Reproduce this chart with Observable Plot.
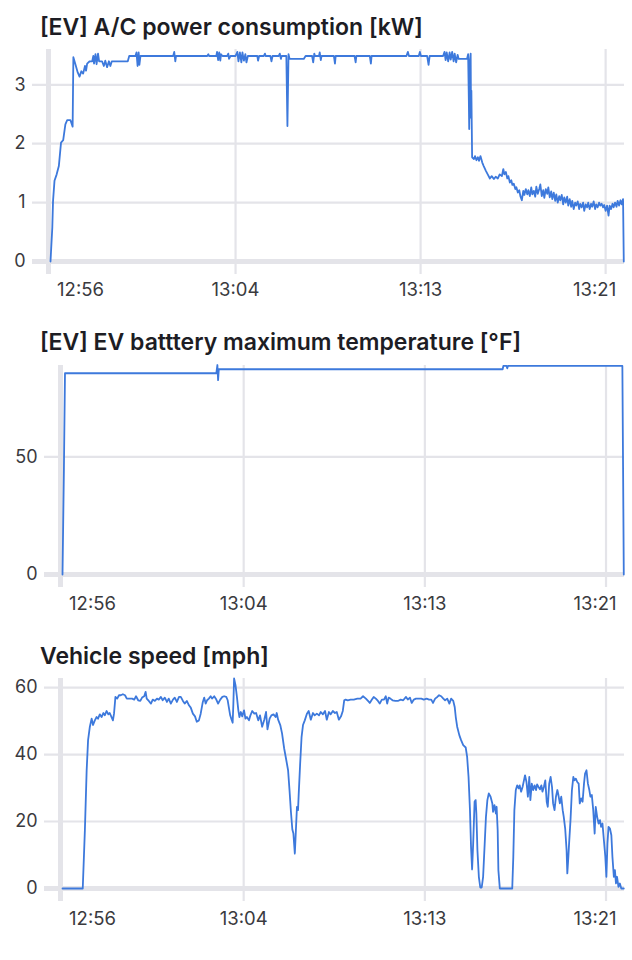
<!DOCTYPE html>
<html><head><meta charset="utf-8">
<script src="https://cdn.jsdelivr.net/npm/d3@7"></script>
<script src="https://cdn.jsdelivr.net/npm/@observablehq/plot@0.6"></script>
<style>
html,body{margin:0;padding:0;background:#fff;}
body{width:632px;height:960px;position:relative;overflow:hidden;font-family:Inter,"Noto Sans",sans-serif;}
.title{position:absolute;left:40px;font-size:23px;font-weight:600;color:#1d1d24;line-height:1;white-space:nowrap;}
.panel{position:absolute;left:0;}
</style></head><body>
<div class="title" style="top:16px">[EV] A/C power consumption [kW]</div>
<div class="panel" id="p1" style="top:40px"></div>
<div class="title" style="top:331px">[EV] EV batttery maximum temperature [°F]</div>
<div class="panel" id="p2" style="top:355px"></div>
<div class="title" style="top:645px">Vehicle speed [mph]</div>
<div class="panel" id="p3" style="top:670px"></div>
<script>
// time axis: seconds after 12:56:00
const startTime = "12:56:00";
const endTime = "13:22:22";
const xTickTimes = ["12:56:00", "13:04:30", "13:13:00", "13:21:30"];
const acTicks = [0, 1, 2, 3];
const tempTicks = [0, 50];
const speedTicks = [0, 20, 40, 60];

// [seconds after 12:56:00, kW]
const acPower = [[0,0],[5,0.58],[7,1.03],[11,1.37],[17,1.48],[23,1.62],[29,2.02],[35,2.06],[41,2.33],[46,2.40],[55,2.40],[61,2.29],[63,3.47],[69,3.34],[75,3.21],[80,3.14],[85,3.23],[90,3.19],[95,3.32],[98,3.24],[101,3.36],[108,3.40],[115,3.40],[118,3.49],[120,3.36],[124,3.52],[127,3.35],[131,3.53],[134,3.40],[142,3.40],[147,3.32],[151,3.41],[156,3.30],[161,3.40],[165,3.32],[169,3.40],[213,3.40],[217,3.49],[234,3.49],[237,3.55],[240,3.32],[243,3.55],[245,3.34],[248,3.49],[338,3.49],[341,3.56],[344,3.40],[346,3.49],[432,3.49],[435,3.52],[437,3.49],[457,3.49],[459,3.56],[462,3.42],[465,3.55],[468,3.41],[470,3.52],[474,3.49],[487,3.49],[490,3.53],[492,3.44],[496,3.49],[510,3.49],[515,3.56],[518,3.40],[522,3.55],[526,3.38],[529,3.55],[533,3.41],[537,3.52],[540,3.38],[544,3.49],[570,3.49],[572,3.41],[575,3.49],[588,3.49],[591,3.53],[593,3.49],[606,3.49],[609,3.40],[612,3.49],[629,3.49],[632,3.53],[635,3.44],[637,3.49],[650,3.49],[653,2.30],[656,3.52],[659,3.44],[698,3.44],[703,3.49],[721,3.49],[724,3.38],[727,3.53],[729,3.49],[740,3.49],[742,3.55],[745,3.42],[747,3.49],[781,3.49],[784,3.36],[786,3.49],[838,3.49],[841,3.38],[843,3.49],[880,3.49],[883,3.36],[885,3.49],[981,3.49],[985,3.56],[988,3.49],[1015,3.49],[1018,3.56],[1021,3.49],[1038,3.49],[1042,3.34],[1045,3.49],[1082,3.49],[1086,3.56],[1089,3.42],[1092,3.55],[1096,3.40],[1100,3.55],[1103,3.43],[1107,3.56],[1111,3.40],[1114,3.53],[1118,3.38],[1122,3.51],[1125,3.44],[1148,3.44],[1151,3.52],[1153,2.73],[1154,2.25],[1156,3.41],[1158,3.53],[1159,2.44],[1160,2.90],[1161,2.33],[1162,1.77],[1167,1.74],[1170,1.79],[1174,1.72],[1178,1.77],[1181,1.71],[1185,1.79],[1190,1.68],[1194,1.62],[1200,1.54],[1205,1.48],[1211,1.41],[1216,1.45],[1222,1.40],[1227,1.44],[1233,1.41],[1238,1.48],[1244,1.45],[1248,1.57],[1251,1.48],[1255,1.52],[1259,1.41],[1262,1.45],[1266,1.34],[1270,1.38],[1273,1.30],[1277,1.32],[1281,1.23],[1284,1.26],[1288,1.17],[1292,1.21],[1295,1.11],[1299,1.04],[1303,1.20],[1306,1.13],[1310,1.23],[1314,1.14],[1317,1.21],[1321,1.11],[1325,1.26],[1328,1.14],[1332,1.20],[1336,1.10],[1339,1.27],[1343,1.15],[1347,1.23],[1350,1.31],[1354,1.11],[1358,1.21],[1361,1.08],[1365,1.23],[1369,1.15],[1372,1.26],[1376,1.09],[1380,1.19],[1383,1.06],[1387,1.17],[1391,1.03],[1394,1.14],[1398,1.00],[1402,1.11],[1405,1.04],[1409,1.13],[1413,0.97],[1416,1.09],[1420,1.00],[1424,1.10],[1427,0.95],[1431,1.06],[1435,0.93],[1438,1.03],[1442,0.89],[1446,1.00],[1449,0.95],[1453,1.02],[1457,0.89],[1460,0.98],[1464,0.92],[1468,1.00],[1471,0.86],[1475,0.97],[1479,0.92],[1482,1.00],[1486,0.89],[1490,0.98],[1493,0.93],[1497,1.02],[1501,0.89],[1504,0.97],[1508,0.92],[1512,1.00],[1515,0.95],[1519,0.98],[1523,0.92],[1526,0.96],[1530,0.86],[1534,0.95],[1538,0.78],[1541,0.95],[1545,0.89],[1549,0.98],[1552,0.92],[1556,1.00],[1560,0.93],[1563,1.03],[1567,0.95],[1571,1.04],[1574,0.97],[1578,1.06],[1580,0]];

// [seconds after 12:56:00, °F]
const batteryTemp = [[0,0],[4,45],[7,85.5],[433,85.5],[436,89.0],[438,82.6],[440,87.2],[1239,87.2],[1241,88.6],[1250,88.6],[1252,87.6],[1254,88.6],[1576,88.6],[1578,45],[1580,0]];

// [seconds after 12:56:00, mph]
const vehicleSpeed = [[0,0],[57,0],[63,17.4],[68,35.3],[72,44.3],[77,48.3],[82,50.7],[86,48.8],[91,50.2],[96,51.2],[100,50.7],[105,52.0],[110,51.2],[115,52.4],[119,51.7],[124,53.0],[129,52.0],[133,52.4],[138,51.2],[142,50.2],[145,52.2],[149,57.2],[154,56.7],[159,57.7],[164,57.7],[170,58.0],[176,57.7],[181,56.7],[189,56.7],[196,56.7],[202,56.4],[207,57.4],[213,56.2],[219,56.0],[224,57.0],[230,57.4],[234,58.7],[237,56.7],[243,56.0],[249,55.2],[254,56.4],[260,56.0],[266,56.7],[271,56.4],[277,57.2],[282,56.2],[288,57.0],[294,55.7],[299,56.7],[305,55.2],[311,56.4],[316,57.0],[322,55.7],[328,57.2],[333,57.2],[339,56.0],[344,55.2],[350,56.0],[356,54.7],[361,54.0],[367,52.2],[373,51.4],[378,49.8],[384,50.2],[389,52.2],[395,55.7],[399,57.0],[403,55.2],[407,56.2],[412,56.7],[417,57.4],[421,56.7],[427,57.4],[433,56.4],[438,55.2],[444,56.4],[450,57.2],[455,57.4],[461,57.2],[465,56.2],[468,54.2],[472,51.7],[476,50.4],[479,49.5],[481,55.2],[483,62.7],[487,60.7],[491,57.2],[495,53.2],[498,51.2],[502,52.7],[506,51.4],[511,53.2],[515,50.7],[519,51.2],[525,50.2],[529,51.7],[534,53.0],[540,52.2],[545,52.4],[551,50.2],[556,51.7],[562,48.3],[568,50.4],[573,52.7],[577,47.5],[583,50.7],[588,51.7],[594,52.0],[600,51.2],[603,52.4],[607,50.4],[613,48.8],[618,46.3],[624,41.8],[630,38.3],[635,35.3],[639,29.4],[643,22.9],[647,17.6],[650,16.4],[654,10.4],[657,17.4],[660,24.4],[663,23.4],[665,28.4],[669,37.3],[673,45.3],[677,48.8],[682,50.2],[688,52.2],[693,53.0],[699,50.4],[705,52.4],[710,51.7],[716,52.2],[722,51.7],[727,52.7],[733,52.0],[739,53.0],[744,50.4],[750,52.7],[755,52.0],[761,53.0],[767,52.4],[772,52.7],[778,50.4],[784,51.4],[789,53.0],[793,56.2],[797,56.4],[803,56.2],[811,56.4],[820,56.4],[830,56.7],[839,56.7],[846,57.4],[854,56.7],[860,56.0],[865,55.4],[871,56.4],[876,57.2],[882,56.7],[888,56.0],[893,55.2],[899,56.4],[905,56.4],[910,57.4],[914,55.2],[918,57.0],[923,56.7],[929,56.2],[937,56.0],[944,56.0],[952,56.4],[959,56.2],[967,57.2],[972,56.4],[978,57.0],[983,55.4],[989,56.4],[995,56.7],[1002,56.7],[1010,56.7],[1017,56.4],[1025,56.7],[1032,56.4],[1038,56.4],[1043,55.4],[1049,56.7],[1055,57.2],[1060,57.7],[1066,57.4],[1072,56.7],[1077,56.2],[1083,56.7],[1089,55.2],[1094,56.7],[1100,56.0],[1104,54.2],[1107,51.2],[1111,48.3],[1117,45.8],[1122,44.3],[1128,42.8],[1135,42.1],[1139,39.3],[1143,33.3],[1147,23.4],[1150,12.4],[1153,5.7],[1156,13.4],[1160,25.9],[1163,26.4],[1165,22.4],[1168,11.4],[1172,3.5],[1176,0.3],[1180,0.3],[1184,3.5],[1188,12.4],[1192,21.4],[1196,26.4],[1200,28.4],[1205,27.4],[1210,25.4],[1212,22.9],[1216,24.9],[1220,22.4],[1222,24.4],[1225,17.4],[1227,5.5],[1231,0],[1266,0],[1269,9.5],[1272,23.4],[1276,29.4],[1280,30.8],[1284,29.9],[1287,30.8],[1291,28.9],[1295,30.3],[1299,32.3],[1302,33.8],[1306,31.8],[1310,27.4],[1314,33.3],[1317,26.4],[1321,31.3],[1325,29.4],[1329,30.8],[1333,29.4],[1336,31.1],[1340,30.3],[1344,29.6],[1348,30.8],[1351,28.9],[1355,30.3],[1359,32.3],[1363,25.9],[1366,24.4],[1370,31.3],[1374,33.3],[1378,30.3],[1381,25.4],[1385,23.4],[1389,27.4],[1393,29.4],[1396,27.9],[1400,25.4],[1404,27.4],[1408,23.4],[1411,21.4],[1415,17.9],[1419,11.4],[1421,4.5],[1424,9.5],[1426,13.4],[1430,20.4],[1434,29.4],[1438,33.3],[1441,32.3],[1445,32.8],[1449,31.8],[1453,31.3],[1456,25.4],[1460,26.9],[1464,25.9],[1468,31.3],[1471,34.3],[1475,35.3],[1479,31.3],[1483,29.4],[1486,27.4],[1490,27.9],[1494,23.4],[1498,16.4],[1501,24.4],[1505,21.4],[1509,19.4],[1513,20.4],[1516,18.4],[1520,19.4],[1524,14.4],[1528,9.5],[1531,3.5],[1534,13.4],[1537,18.4],[1541,17.9],[1545,15.9],[1548,9.5],[1552,3.5],[1555,5.5],[1558,1.5],[1561,3.5],[1565,0.5],[1569,1.5],[1573,0],[1580,0]];

const GRID = "#e4e4e9";
const BLUE = "#3d79dc";
const LABEL = "#3a3a3e";
const FONT = "Inter, 'Noto Sans', sans-serif";

const parseT = d3.utcParse("%Y-%m-%d %H:%M:%S");
const toTime = s => parseT("2023-01-01 " + s);
const t0 = toTime(startTime);
const fromSec = s => new Date(t0.getTime() + s * 1000);
const fmt = d3.utcFormat("%H:%M");

function panel(el, points, yDomain, yTicks, height, marginTop, marginBottom, marginLeft, xStart, labelDy) {
  const data = points.map(([s, v]) => ({t: fromSec(s), v}));
  const xt = xTickTimes.map(toTime);
  const chart = Plot.plot({
    width: 632, height, marginTop, marginBottom, marginLeft, marginRight: 8,
    x: {type: "utc", domain: [t0, toTime(endTime)], range: [xStart, 624], axis: null},
    y: {domain: yDomain, axis: null},
    style: {background: "transparent", fontFamily: FONT, overflow: "visible"},
    marks: [
      Plot.ruleY(yTicks.filter(d => d !== 0), {y: d => d, stroke: GRID, strokeWidth: 2.2}),
      Plot.ruleX(xt.slice(1), {x: d => d, stroke: GRID, strokeWidth: 2.2, insetBottom: -13}),
      Plot.ruleX(xt.slice(0, 1), {x: d => d, stroke: GRID, strokeWidth: 5, dx: -2, insetBottom: -13}),
      Plot.ruleY([0], {y: d => d, stroke: GRID, strokeWidth: 5}),
      Plot.line(data, {x: "t", y: "v", stroke: BLUE, strokeWidth: 1.8}),
      Plot.text(yTicks, {y: d => d, frameAnchor: "left", dx: -7, textAnchor: "end", text: d => String(d), fill: LABEL, fontSize: 18}),
      Plot.text(xt.slice(0, 1), {x: d => d, frameAnchor: "bottom", dy: labelDy, dx: 30, text: fmt, fill: LABEL, fontSize: 18.5}),
      Plot.text(xt.slice(1, -1), {x: d => d, frameAnchor: "bottom", dy: labelDy, text: fmt, fill: LABEL, fontSize: 18.5}),
      Plot.text(xt.slice(-1), {x: d => d, frameAnchor: "bottom", dy: labelDy, dx: -11, text: fmt, fill: LABEL, fontSize: 18.5})
    ]
  });
  document.getElementById(el).appendChild(chart);
}

panel("p1", acPower, [0, 3.6], acTicks, 280, 9, 59, 32, 50, 34);
panel("p2", batteryTemp, [0, 88.8], tempTicks, 280, 10, 61, 44, 62, 35);
panel("p3", vehicleSpeed, [0, 62.7], speedTicks, 290, 8, 72, 44, 62, 36);
</script>
</body></html>
